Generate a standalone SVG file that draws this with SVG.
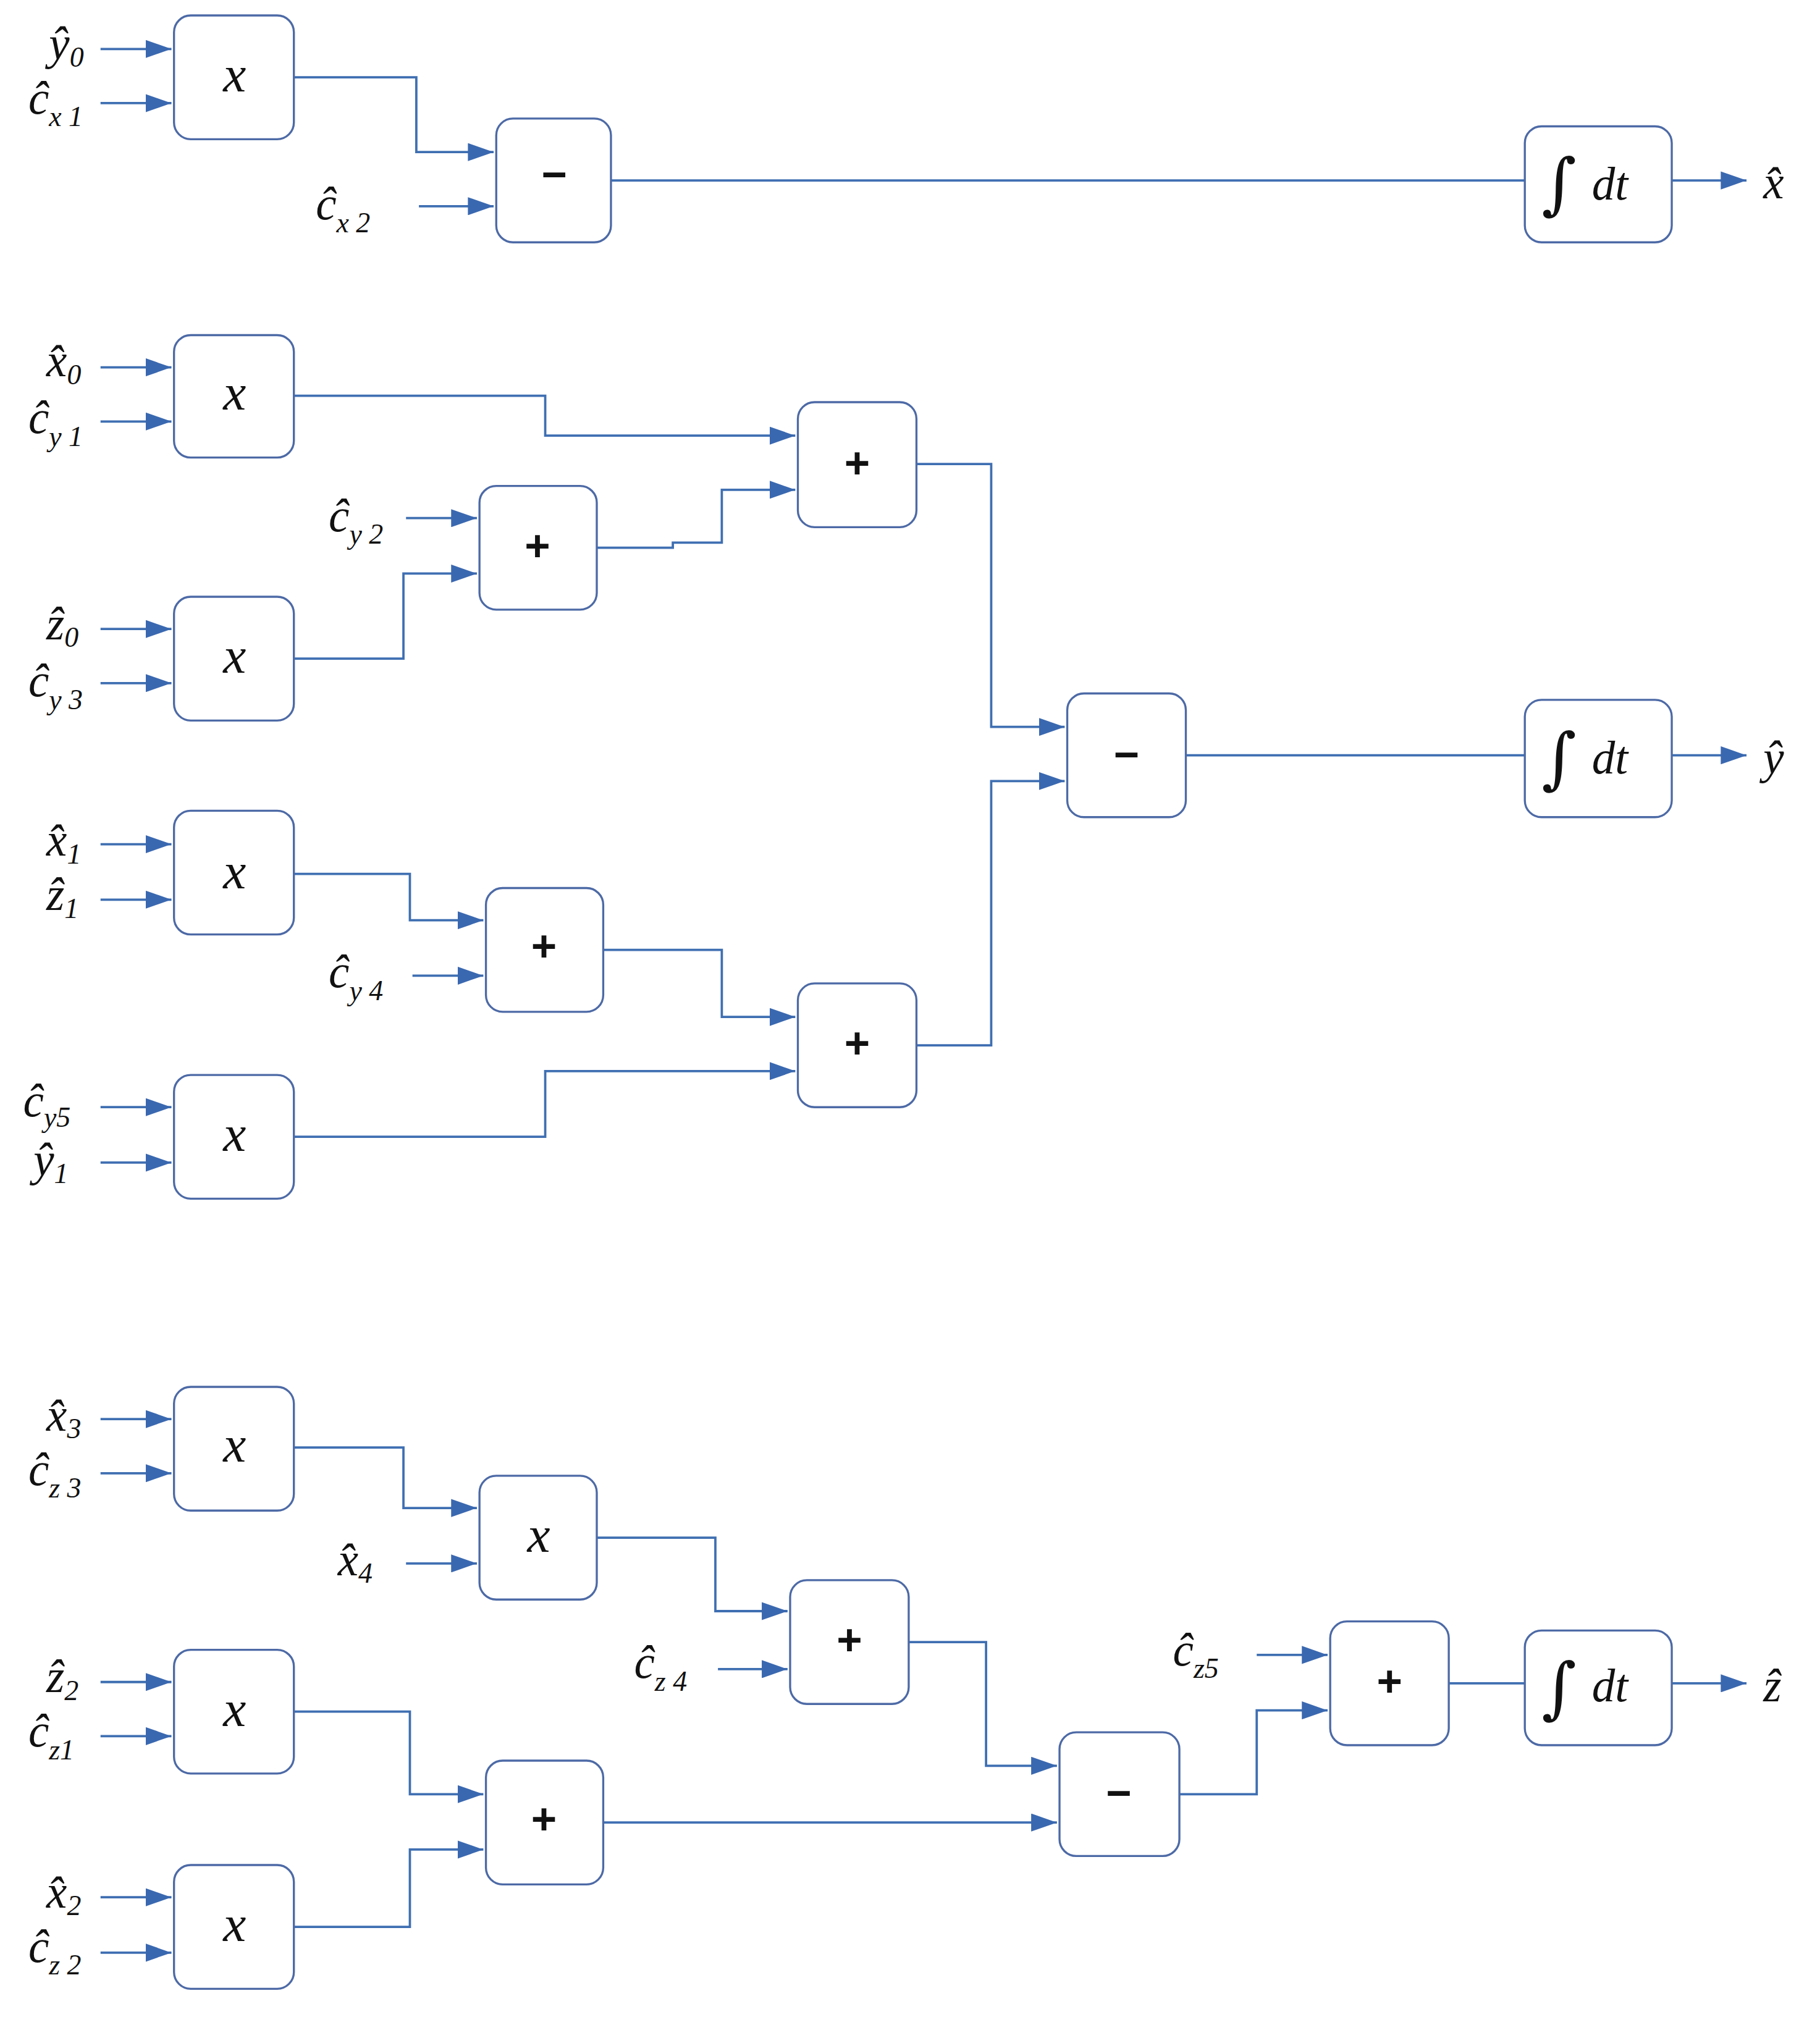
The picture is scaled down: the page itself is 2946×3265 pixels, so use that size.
<svg xmlns="http://www.w3.org/2000/svg" width="2946" height="3265" viewBox="0 0 2946 3265">
<style>
.b{fill:#fff;stroke:#4d6aa6;stroke-width:1.6}
.c{fill:none;stroke:#3f6fb2;stroke-width:1.8}
.m{font-family:"Liberation Serif",serif;font-style:italic;font-size:36px;fill:#111}
.s{font-family:"Liberation Serif",serif;font-size:22px;fill:#111}
.si{font-family:"Liberation Serif",serif;font-style:italic;font-size:22px;fill:#111}
.op{font-family:"Liberation Sans",sans-serif;font-size:34px;font-weight:bold;fill:#111;text-anchor:middle}
.bx{font-family:"Liberation Serif",serif;font-style:italic;font-size:40px;fill:#111;text-anchor:middle}
.int{font-family:"DejaVu Serif",serif;font-size:52px;fill:#111}
</style>
<defs>
<marker id="a" markerUnits="userSpaceOnUse" markerWidth="22" markerHeight="14" refX="20" refY="7" orient="auto"><path d="M0,0 L20,7 L0,14 Z" fill="#3a68b0"/></marker>
</defs>
<rect width="2946" height="3265" fill="#fff"/>
<g transform="scale(2.0864)">
<g id="connectors" class="c" marker-end="url(#a)">
<path d="M78,38H133"/><path d="M78,80H133"/>
<path d="M228,60H323V118H383"/><path d="M325,160H383"/>
<path d="M474,140H1183" marker-end="none"/><path d="M1297,140H1355"/>
<path d="M78,285H133"/><path d="M78,327H133"/>
<path d="M228,307H423V338H617"/>
<path d="M315,402H370"/><path d="M228,511H313V445H370"/>
<path d="M463,425H522V421H560V380H617"/>
<path d="M78,488H133"/><path d="M78,530H133"/>
<path d="M711,360H769V564H826"/>
<path d="M920,586H1183" marker-end="none"/><path d="M1297,586H1355"/>
<path d="M78,655H133"/><path d="M78,698H133"/>
<path d="M228,678H318V714H375"/><path d="M320,757H375"/>
<path d="M468,737H560V789H617"/>
<path d="M711,811H769V606H826"/>
<path d="M78,859H133"/><path d="M78,902H133"/>
<path d="M228,882H423V831H617"/>
<path d="M78,1101H133"/><path d="M78,1143H133"/>
<path d="M228,1123H313V1170H370"/><path d="M315,1213H370"/>
<path d="M463,1193H555V1250H611"/><path d="M557,1295H611"/>
<path d="M705,1274H765V1370H820"/>
<path d="M78,1305H133"/><path d="M78,1347H133"/>
<path d="M228,1328H318V1392H375"/>
<path d="M78,1472H133"/><path d="M78,1515H133"/>
<path d="M228,1495H318V1435H375"/>
<path d="M468,1414H820"/>
<path d="M915,1392H975V1327H1030"/><path d="M975,1284H1030"/>
<path d="M1124,1306H1183" marker-end="none"/><path d="M1297,1306H1355"/>
</g>
<g id="n_mx1"><rect class="b" x="135" y="12" width="93" height="96" rx="13"/><text class="bx" x="182" y="71">x</text></g>
<g id="n_sub1"><rect class="b" x="385" y="92" width="89" height="96" rx="13"/><text class="op" x="430" y="147">−</text></g>
<g id="n_int1"><rect class="b" x="1183" y="98" width="114" height="90" rx="13"/><text class="int" x="1196" y="160">∫</text><text class="m" x="1235" y="155">dt</text></g>
<g id="n_mx2"><rect class="b" x="135" y="260" width="93" height="95" rx="13"/><text class="bx" x="182" y="318">x</text></g>
<g id="n_addA"><rect class="b" x="619" y="312" width="92" height="97" rx="13"/><text class="op" x="665" y="371">+</text></g>
<g id="n_addB"><rect class="b" x="372" y="377" width="91" height="96" rx="13"/><text class="op" x="417" y="435">+</text></g>
<g id="n_mx3"><rect class="b" x="135" y="463" width="93" height="96" rx="13"/><text class="bx" x="182" y="522">x</text></g>
<g id="n_sub2"><rect class="b" x="828" y="538" width="92" height="96" rx="13"/><text class="op" x="874" y="597">−</text></g>
<g id="n_int2"><rect class="b" x="1183" y="543" width="114" height="91" rx="13"/><text class="int" x="1196" y="606">∫</text><text class="m" x="1235" y="600">dt</text></g>
<g id="n_mx4"><rect class="b" x="135" y="629" width="93" height="96" rx="13"/><text class="bx" x="182" y="689">x</text></g>
<g id="n_addC"><rect class="b" x="377" y="689" width="91" height="96" rx="13"/><text class="op" x="422" y="746">+</text></g>
<g id="n_addD"><rect class="b" x="619" y="763" width="92" height="96" rx="13"/><text class="op" x="665" y="821">+</text></g>
<g id="n_mx5"><rect class="b" x="135" y="834" width="93" height="96" rx="13"/><text class="bx" x="182" y="893">x</text></g>
<g id="n_mx6"><rect class="b" x="135" y="1076" width="93" height="96" rx="13"/><text class="bx" x="182" y="1134">x</text></g>
<g id="n_mx7"><rect class="b" x="372" y="1145" width="91" height="96" rx="13"/><text class="bx" x="418" y="1204">x</text></g>
<g id="n_addE"><rect class="b" x="613" y="1226" width="92" height="96" rx="13"/><text class="op" x="659" y="1284">+</text></g>
<g id="n_mx8"><rect class="b" x="135" y="1280" width="93" height="96" rx="13"/><text class="bx" x="182" y="1339">x</text></g>
<g id="n_addF"><rect class="b" x="377" y="1366" width="91" height="96" rx="13"/><text class="op" x="422" y="1423">+</text></g>
<g id="n_mx9"><rect class="b" x="135" y="1447" width="93" height="96" rx="13"/><text class="bx" x="182" y="1506">x</text></g>
<g id="n_sub3"><rect class="b" x="822" y="1344" width="93" height="96" rx="13"/><text class="op" x="868" y="1403">−</text></g>
<g id="n_addG"><rect class="b" x="1032" y="1258" width="92" height="96" rx="13"/><text class="op" x="1078" y="1316">+</text></g>
<g id="n_int3"><rect class="b" x="1183" y="1265" width="114" height="89" rx="13"/><text class="int" x="1196" y="1327">∫</text><text class="m" x="1235" y="1320">dt</text></g>
<g id="labels">
<text class="m" x="38" y="46">ŷ<tspan class="s" dy="6">0</tspan></text>
<text class="m" x="22" y="88">ĉ<tspan class="si" dy="10">x 1</tspan></text>
<text class="m" x="245" y="170">ĉ<tspan class="si" dy="10">x 2</tspan></text>
<text class="m" x="1368" y="154">x̂</text>
<text class="m" x="36" y="292">x̂<tspan class="s" dy="6">0</tspan></text>
<text class="m" x="22" y="336">ĉ<tspan class="si" dy="10">y 1</tspan></text>
<text class="m" x="255" y="412">ĉ<tspan class="si" dy="10">y 2</tspan></text>
<text class="m" x="36" y="496">ẑ<tspan class="s" dy="6">0</tspan></text>
<text class="m" x="22" y="540">ĉ<tspan class="si" dy="10">y 3</tspan></text>
<text class="m" x="36" y="664">x̂<tspan class="s" dy="6">1</tspan></text>
<text class="m" x="36" y="706">ẑ<tspan class="s" dy="6">1</tspan></text>
<text class="m" x="255" y="766">ĉ<tspan class="si" dy="10">y 4</tspan></text>
<text class="m" x="1368" y="600">ŷ</text>
<text class="m" x="18" y="866">ĉ<tspan class="si" dy="8">y5</tspan></text>
<text class="m" x="26" y="912">ŷ<tspan class="s" dy="6">1</tspan></text>
<text class="m" x="36" y="1110">x̂<tspan class="s" dy="6">3</tspan></text>
<text class="m" x="22" y="1152">ĉ<tspan class="si" dy="10">z 3</tspan></text>
<text class="m" x="262" y="1222">x̂<tspan class="s" dy="6">4</tspan></text>
<text class="m" x="492" y="1302">ĉ<tspan class="si" dy="10">z 4</tspan></text>
<text class="m" x="36" y="1313">ẑ<tspan class="s" dy="6">2</tspan></text>
<text class="m" x="22" y="1355">ĉ<tspan class="si" dy="10">z1</tspan></text>
<text class="m" x="36" y="1480">x̂<tspan class="s" dy="6">2</tspan></text>
<text class="m" x="22" y="1522">ĉ<tspan class="si" dy="10">z 2</tspan></text>
<text class="m" x="910" y="1292">ĉ<tspan class="si" dy="10">z5</tspan></text>
<text class="m" x="1368" y="1320">ẑ</text>
</g>
</g>
</svg>
